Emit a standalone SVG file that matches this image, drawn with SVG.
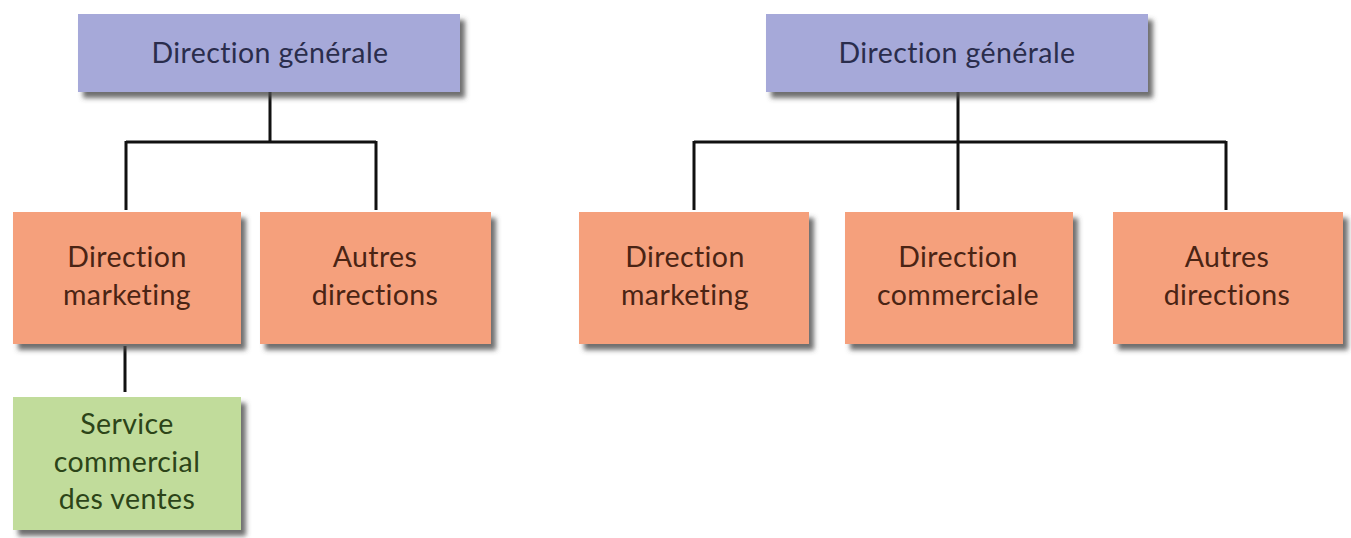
<svg xmlns="http://www.w3.org/2000/svg" width="1351" height="538" viewBox="0 0 1351 538">
<defs>
<filter id="sh" x="-10%" y="-10%" width="125%" height="130%">
<feDropShadow dx="5" dy="6" stdDeviation="2.5" flood-color="#4a4a4a" flood-opacity="0.8"/>
</filter>
<style>
.box{filter:url(#sh)}
.blue{fill:#a6a9d9}
.orange{fill:#f5a07c}
.green{fill:#c1dc9b}
text{font-family:Lato,"Open Sans","Noto Sans",sans-serif;font-size:28.5px;text-anchor:middle;font-variant-ligatures:none;letter-spacing:0.4px}
.tb{fill:#2a2d4c}
.to{fill:#4a2414}
.tg{fill:#2c4418}
.conn{stroke:#111;stroke-width:3;fill:none}
</style>
</defs>
<rect width="1351" height="538" fill="#fff"/>
<g id="connectors">
<path class="conn" d="M270 92V142M126 142H376M126 141V210M376 141V210M125 346V392"/>
<path class="conn" d="M958 92V210M694 142H1226M694 141V210M1226 141V210"/>
</g>
<g id="dg-left"><rect class="box blue" x="78" y="14" width="382" height="78"/><text class="tb" x="270" y="63">Direction générale</text></g>
<g id="dm-left"><rect class="box orange" x="13" y="212" width="228" height="132"/><text class="to" x="127" y="267">Direction</text><text class="to" x="127" y="305">marketing</text></g>
<g id="ad-left"><rect class="box orange" x="260" y="212" width="231" height="132"/><text class="to" x="375" y="267">Autres</text><text class="to" x="375" y="305">directions</text></g>
<g id="scv-left"><rect class="box green" x="13" y="397" width="228" height="133"/><text class="tg" x="127" y="434">Service</text><text class="tg" x="127" y="472">commercial</text><text class="tg" x="127" y="509">des ventes</text></g>
<g id="dg-right"><rect class="box blue" x="766" y="14" width="382" height="78"/><text class="tb" x="957" y="63">Direction générale</text></g>
<g id="dm-right"><rect class="box orange" x="579" y="212" width="230" height="132"/><text class="to" x="685" y="267">Direction</text><text class="to" x="685" y="305">marketing</text></g>
<g id="dc-right"><rect class="box orange" x="845" y="212" width="228" height="132"/><text class="to" x="958" y="267">Direction</text><text class="to" x="958" y="305">commerciale</text></g>
<g id="ad-right"><rect class="box orange" x="1113" y="212" width="230" height="132"/><text class="to" x="1227" y="267">Autres</text><text class="to" x="1227" y="305">directions</text></g>
</svg>
